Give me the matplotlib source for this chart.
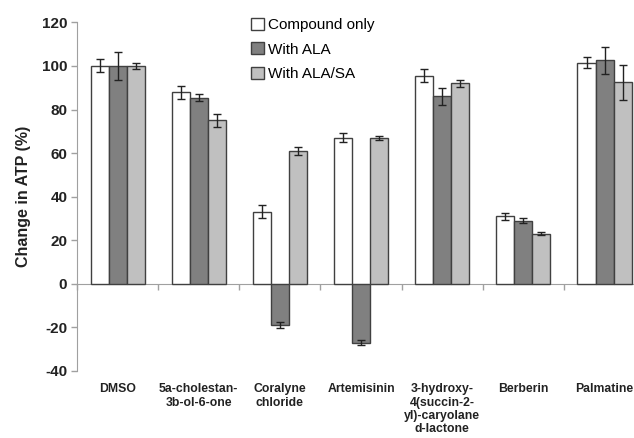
import numpy as np
import matplotlib
matplotlib.use('Agg')
import matplotlib.pyplot as plt
from matplotlib.transforms import blended_transform_factory

plt.rcParams['font.family'] = ['Liberation Sans', 'DejaVu Sans']
plt.rcParams['axes.unicode_minus'] = False

categorias = ['DMSO', '5a-cholestan-\n3b-ol-6-one', 'Coralyne\nchloride', 'Artemisinin',
              '3-hydroxy-\n4(succin-2-\nyl)-caryolane\nd-lactone', 'Berberin', 'Palmatine']
series = ['Compound only', 'With ALA', 'With ALA/SA']

composto = [100, 88, 33, 67, 95.5, 31, 101.5]
composto_erro = [3, 3, 3, 2, 3, 1.5, 2.5]
com_ala = [100, 85.5, -19, -27, 86, 29, 102.5]
com_ala_erro = [6.5, 1.5, 1.5, 1, 4, 1, 6]
com_ala_sa = [100, 75, 61, 67, 92, 23, 92.5]
com_ala_sa_erro = [1.5, 3, 2, 1, 1.5, 0.7, 8]

cores = ['#ffffff', '#808080', '#c0c0c0']

fig = plt.figure(figsize=(6.34, 4.38), dpi=100)
ax = fig.add_axes([0.1215, 0.153, 0.896, 0.796])

x = np.arange(len(categorias))
largura = 0.222
valores = [composto, com_ala, com_ala_sa]
erros = [composto_erro, com_ala_erro, com_ala_sa_erro]
for i, (v, e) in enumerate(zip(valores, erros)):
    ax.bar(x + (i - 1) * largura, v, largura, color=cores[i], edgecolor='#404040',
           linewidth=1, label=series[i], zorder=2,
           yerr=e, error_kw=dict(ecolor='#222222', elinewidth=1, capsize=3, capthick=1))

ax.set_xlim(-0.5, len(categorias) - 0.5)
ax.set_ylim(-40, 120)
ax.set_yticks(range(-40, 121, 20))
for lbl in ax.get_yticklabels():
    lbl.set_fontweight('bold')
ax.tick_params(axis='y', labelsize=11, length=4, color='#a0a0a0', width=1, pad=3,
               labelcolor='#222222')

ax.spines['top'].set_visible(False)
ax.spines['right'].set_visible(False)
ax.spines['left'].set_color('#a0a0a0')
ax.spines['bottom'].set_position(('data', 0))
ax.spines['bottom'].set_color('#a0a0a0')
ax.spines['bottom'].set_zorder(1)

ax.set_xticks(np.arange(len(categorias) + 1) - 0.5)
ax.set_xticklabels([])
ax.tick_params(axis='x', length=4, color='#a0a0a0', width=1, direction='out')

trans = blended_transform_factory(ax.transData, ax.transAxes)
for xi, nome in zip(x, categorias):
    ax.text(xi, -0.035, nome, transform=trans, ha='center', va='top',
            fontsize=8.8, fontweight='bold', linespacing=1.15, color='#222222')

ax.set_ylabel('Change in ATP (%)', fontsize=11.5, fontweight='bold', labelpad=8,
              color='#222222')

ax.legend(loc='upper left', bbox_to_anchor=(0.295, 1.03), frameon=False, fontsize=11,
          handlelength=0.85, handleheight=0.85, handletextpad=0.25, labelspacing=0.65,
          borderaxespad=0)

fig.savefig('out.png', dpi=100)
